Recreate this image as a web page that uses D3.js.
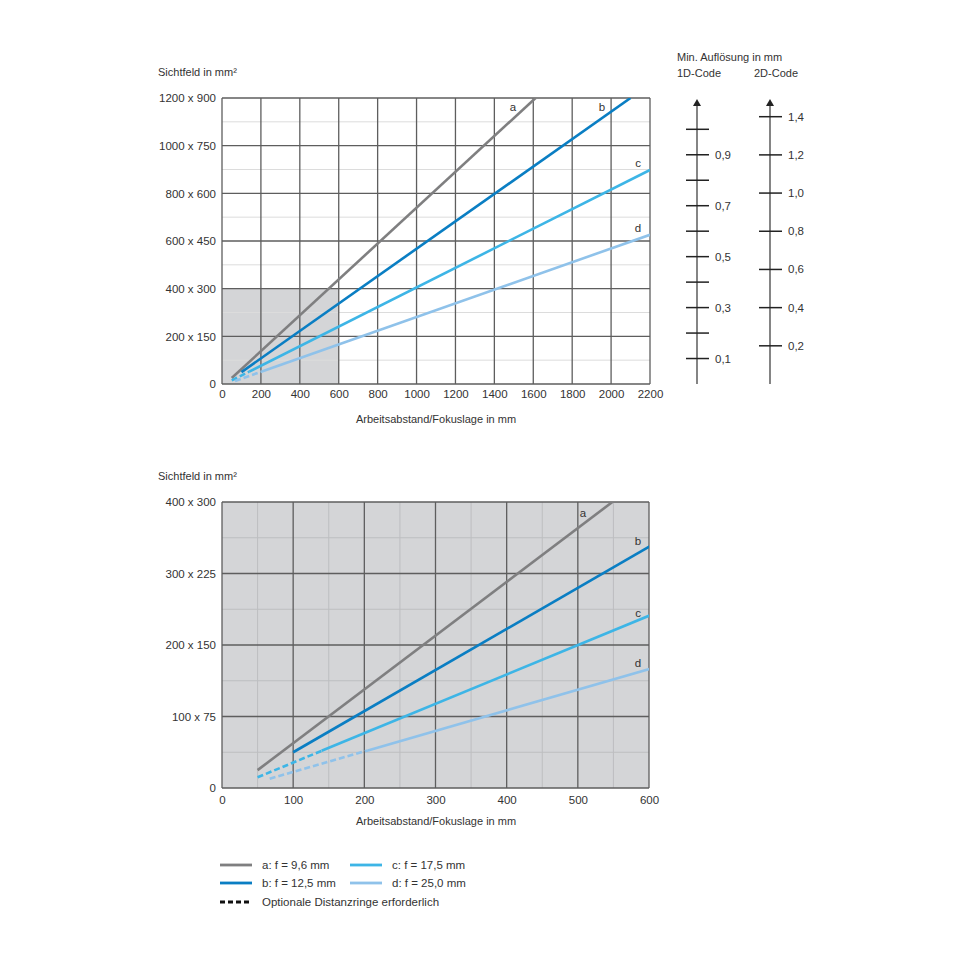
<!DOCTYPE html>
<html>
<head>
<meta charset="utf-8">
<script src="https://cdn.jsdelivr.net/npm/d3@7"></script>
<style>
  body { margin: 0; background: #fff; }
  text { font-family: "Liberation Sans", Arial, sans-serif; fill: #333; }
</style>
</head>
<body>
<svg id="chart" width="960" height="960"></svg>
<script>
// series
const seriesKeys = ["a", "b", "c", "d"];
const seriesLegend = ["a: f = 9,6 mm", "b: f = 12,5 mm", "c: f = 17,5 mm", "d: f = 25,0 mm"];
const seriesColors = ["#7f7f80", "#0a7ec3", "#3db5e6", "#8fc2ea"];
// [distance mm, field width mm]
const dashedParts = [
  [],
  [],
  [[50, 15], [140, 52]],
  [[67, 13], [205, 52.6]]
];
const solidParts = [
  [[50, 25], [1612, 1200]],
  [[100, 50], [2100, 1200]],
  [[140, 52], [2200, 898]],
  [[205, 52.6], [2200, 626]]
];

// top chart ticks
const topXTicks = [0, 200, 400, 600, 800, 1000, 1200, 1400, 1600, 1800, 2000, 2200];
const topYTicks = [0, 200, 400, 600, 800, 1000, 1200];
const topYLabels = ["0", "200 x 150", "400 x 300", "600 x 450", "800 x 600", "1000 x 750", "1200 x 900"];
const topYMinor = [100, 300, 500, 700, 900, 1100];
const zoomBox = [600, 400]; // grey area = bottom chart

// bottom chart ticks
const botXTicks = [0, 100, 200, 300, 400, 500, 600];
const botXMinor = [50, 150, 250, 350, 450, 550];
const botYTicks = [0, 100, 200, 300, 400];
const botYLabels = ["0", "100 x 75", "200 x 150", "300 x 225", "400 x 300"];
const botYMinor = [50, 150, 250, 350];

// resolution scales
const oneDTicks = [0.1, 0.2, 0.3, 0.4, 0.5, 0.6, 0.7, 0.8, 0.9, 1.0];
const oneDLabels = { 0.1: "0,1", 0.3: "0,3", 0.5: "0,5", 0.7: "0,7", 0.9: "0,9" };
const twoDTicks = [0.2, 0.4, 0.6, 0.8, 1.0, 1.2, 1.4];
const twoDLabels = ["0,2", "0,4", "0,6", "0,8", "1,0", "1,2", "1,4"];

const svg = d3.select("#chart");
const majorColor = "#5e5e5e";

function drawPanel(opt) {
  const g = svg.append("g");
  const x = opt.x, y = opt.y;
  const [x0, x1] = x.range();
  const [y0, y1] = y.range();

  if (opt.fullGrey) {
    g.append("rect").attr("x", x0).attr("y", y1).attr("width", x1 - x0).attr("height", y0 - y1).attr("fill", "#d4d5d7");
  } else {
    g.append("rect").attr("x", x0).attr("y", y(zoomBox[1]))
      .attr("width", x(zoomBox[0]) - x0).attr("height", y0 - y(zoomBox[1])).attr("fill", "#d4d5d7");
  }

  // minor grid
  g.selectAll(".hmin").data(opt.yMinor).enter().append("line")
    .attr("x1", x0).attr("x2", x1).attr("y1", d => y(d)).attr("y2", d => y(d))
    .attr("stroke", opt.minorColor).attr("stroke-width", 1);
  g.selectAll(".vmin").data(opt.xMinor || []).enter().append("line")
    .attr("y1", y0).attr("y2", y1).attr("x1", d => x(d)).attr("x2", d => x(d))
    .attr("stroke", opt.minorColor).attr("stroke-width", 1);

  // major grid
  g.selectAll(".hmaj").data(opt.yTicks).enter().append("line")
    .attr("x1", x0).attr("x2", x1).attr("y1", d => y(d)).attr("y2", d => y(d))
    .attr("stroke", majorColor).attr("stroke-width", 1.3);
  g.selectAll(".vmaj").data(opt.xTicks).enter().append("line")
    .attr("y1", y0).attr("y2", y1).attr("x1", d => x(d)).attr("x2", d => x(d))
    .attr("stroke", majorColor).attr("stroke-width", 1.3);

  // lines
  const clipId = "clip" + opt.id;
  svg.append("clipPath").attr("id", clipId).append("rect")
    .attr("x", x0).attr("y", y1).attr("width", x1 - x0).attr("height", y0 - y1);
  const lg = g.append("g").attr("clip-path", "url(#" + clipId + ")");
  const line = d3.line().x(d => x(d[0])).y(d => y(d[1]));
  seriesKeys.forEach((k, i) => {
    if (dashedParts[i].length) {
      lg.append("path").attr("d", line(dashedParts[i])).attr("fill", "none")
        .attr("stroke", seriesColors[i]).attr("stroke-width", 2.6).attr("stroke-dasharray", "6,3");
    }
    lg.append("path").attr("d", line(solidParts[i])).attr("fill", "none")
      .attr("stroke", seriesColors[i]).attr("stroke-width", 2.6);
  });

  // series letters
  g.selectAll(".lbl").data(opt.letterPos).enter().append("text")
    .attr("x", d => d[0]).attr("y", d => d[1] + 4).attr("text-anchor", "middle")
    .style("font-size", "11.5px").text((d, i) => seriesKeys[i]);

  // axes labels
  const ya = g.append("g").attr("transform", "translate(" + x0 + ",0)")
    .call(d3.axisLeft(y).tickValues(opt.yTicks).tickSize(0).tickPadding(6)
      .tickFormat((d, i) => opt.yLabels[i]));
  ya.select(".domain").remove();
  ya.selectAll("text").style("font-size", "11.5px").attr("fill", "#333");

  const xa = g.append("g").attr("transform", "translate(0," + y0 + ")")
    .call(d3.axisBottom(x).tickValues(opt.xTicks).tickSize(0).tickPadding(opt.xPad)
      .tickFormat(d3.format("d")));
  xa.select(".domain").remove();
  xa.selectAll("text").style("font-size", "11.5px").attr("fill", "#333");

  g.append("text").attr("x", 158).attr("y", opt.titleY).style("font-size", "11px").text("Sichtfeld in mm²");
  g.append("text").attr("x", 436).attr("y", opt.xTitleY).attr("text-anchor", "middle")
    .style("font-size", "11px").text("Arbeitsabstand/Fokuslage in mm");
}

drawPanel({
  id: "top",
  x: d3.scaleLinear().domain([0, 2200]).range([222, 650]),
  y: d3.scaleLinear().domain([0, 1200]).range([384, 98]),
  xTicks: topXTicks, yTicks: topYTicks, yLabels: topYLabels, yMinor: topYMinor,
  minorColor: "#dcdcdc", xPad: 6,
  letterPos: [[513, 107], [602, 107], [638, 163], [638, 228]],
  titleY: 76, xTitleY: 423
});

drawPanel({
  id: "bot",
  x: d3.scaleLinear().domain([0, 600]).range([222, 649]),
  y: d3.scaleLinear().domain([0, 400]).range([788, 502]),
  xTicks: botXTicks, yTicks: botYTicks, yLabels: botYLabels, yMinor: botYMinor, xMinor: botXMinor,
  minorColor: "#bdbec0", fullGrey: true, xPad: 8,
  letterPos: [[583, 513], [638, 541], [638, 613], [638, 663]],
  titleY: 480, xTitleY: 825
});

// resolution scales
function drawScale(cx, scale, ticks, labelFn) {
  const g = svg.append("g");
  g.append("line").attr("x1", cx).attr("x2", cx).attr("y1", 104).attr("y2", scale(0))
    .attr("stroke", "#333").attr("stroke-width", 1.2);
  g.append("path").attr("d", `M${cx},99 L${cx - 4},106 L${cx + 4},106 Z`).attr("fill", "#222");
  g.selectAll(".t").data(ticks).enter().append("line")
    .attr("x1", cx - 11).attr("x2", cx + 12).attr("y1", d => scale(d)).attr("y2", d => scale(d))
    .attr("stroke", "#222").attr("stroke-width", 1.5);
  g.selectAll(".tl").data(ticks).enter().append("text")
    .attr("x", cx + 18).attr("y", d => scale(d) + 4).style("font-size", "11.5px")
    .text((d, i) => labelFn(d, i));
}
const oneD = d3.scaleLinear().domain([0, 1]).range([384, 129.3]);
const twoD = d3.scaleLinear().domain([0, 1.4]).range([384, 116.7]);
drawScale(697, oneD, oneDTicks, d => oneDLabels[Math.round(d * 10) / 10] || "");
drawScale(770, twoD, twoDTicks, (d, i) => twoDLabels[i]);

svg.append("text").attr("x", 677).attr("y", 61).style("font-size", "11px").text("Min. Auflösung in mm");
svg.append("text").attr("x", 677).attr("y", 77).style("font-size", "11px").text("1D-Code");
svg.append("text").attr("x", 754).attr("y", 77).style("font-size", "11px").text("2D-Code");

// legend
const legendPos = [[220, 865], [220, 883], [350, 865], [350, 883]];
const lgd = svg.append("g");
seriesKeys.forEach((k, i) => {
  const [lx, ly] = legendPos[i];
  lgd.append("line").attr("x1", lx).attr("x2", lx + 32).attr("y1", ly).attr("y2", ly)
    .attr("stroke", seriesColors[i]).attr("stroke-width", 2.8);
  lgd.append("text").attr("x", lx + 42).attr("y", ly + 4).style("font-size", "11.5px").text(seriesLegend[i]);
});
lgd.append("line").attr("x1", 220).attr("x2", 252).attr("y1", 902).attr("y2", 902)
  .attr("stroke", "#111").attr("stroke-width", 2.8).attr("stroke-dasharray", "5,3");
lgd.append("text").attr("x", 262).attr("y", 906).style("font-size", "11.5px").text("Optionale Distanzringe erforderlich");
</script>
</body>
</html>
